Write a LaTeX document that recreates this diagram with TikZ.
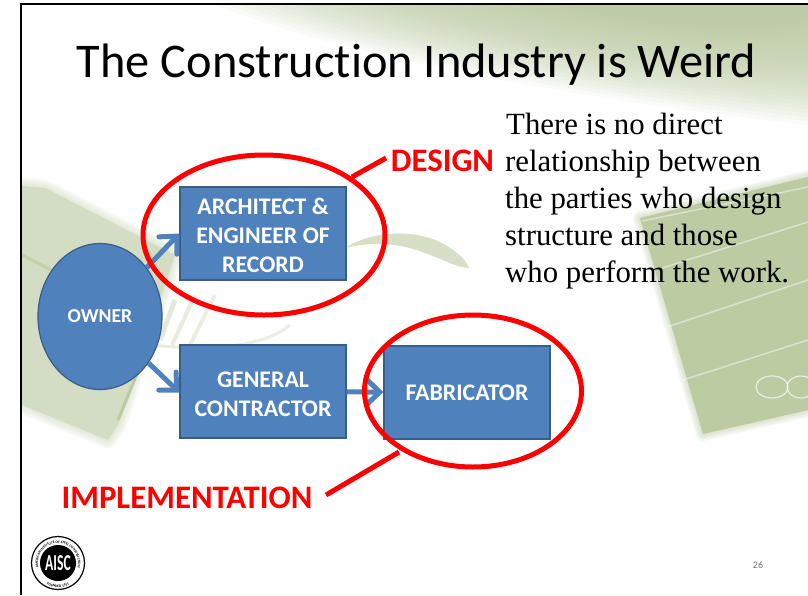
\documentclass[tikz,border=0pt]{standalone}
\usepackage{fontspec}
\setmainfont{Carlito}[Ligatures=NoCommon]
\newfontfamily\bodyfont{Liberation Serif}
\usetikzlibrary{arrows.meta,shapes.geometric,decorations.text}
\definecolor{boxblue}{HTML}{4F81BD}
\definecolor{boxedge}{HTML}{385D8A}
\definecolor{sage}{HTML}{BCCBA2}
\newcommand{\lowerfirst}{\rule{0pt}{21pt}}
\tikzset{
partybox/.style={draw=boxedge,line width=1.2pt,fill=boxblue,text=white,minimum width=166pt,minimum height=93pt,align=center,font=\fontsize{23.8}{29}\selectfont\bfseries},
flow/.style={draw=boxblue,line width=5pt,-{Straight Barb[length=13pt,width=25pt,line cap=round]}},
ring/.style={draw=red,line width=5pt},
tag/.style={text=red,font=\fontsize{32.8}{36}\selectfont\bfseries,inner sep=0pt},
crease/.style={draw=white,opacity=0.45,line width=1.5pt},
}
\begin{document}
\begin{tikzpicture}[x=1pt,y=-1pt]
\useasboundingbox (0,0) rectangle (808,595);
\fill[white] (0,0) rectangle (808,595);
%
% backdrop, top right
\foreach \k in {0,...,27} {
\fill[sage,opacity=0.07] (215+13*\k,5) .. controls (300+13*\k,40-\k/2) and (500+10*\k,90-2*\k) .. (808,125-4*\k) -- (808,5) -- cycle;
}
% backdrop, right
\fill[sage] (640,218) -- (808,177) -- (808,410) -- (703,434) -- cycle;
\foreach \w in {2,5,...,14} {
\draw[sage,opacity=0.12,line width=\w pt,line join=round] (640,218) -- (808,177) -- (808,410) -- (703,434) -- cycle;
}
\draw[crease] (642,221) -- (808,187);
\draw[crease] (662,268) -- (808,222);
\draw[crease] (667,327) -- (808,280);
\draw[crease] (683,380) -- (808,340);
\draw[white,opacity=0.7,line width=1.2pt] (772,387) ellipse (16 and 11);
\draw[white,opacity=0.7,line width=1.2pt] (801,387) ellipse (14 and 11);
% backdrop, left
\begin{scope}
\clip (22,150) rectangle (300,480);
\fill[sage!65] (22,186) -- (45,188) -- (175,255) -- (118,425) -- (108,440) -- (22,405) -- cycle;
\foreach \w in {2,5,...,17} {
\draw[sage!65,opacity=0.13,line width=\w pt,line join=round] (22,186) -- (45,188) -- (175,255) -- (118,425) -- (108,440) -- (22,405) -- cycle;
}
\draw[sage,line width=3pt,opacity=0.7] (22,255) -- (70,280);
\draw[sage,line width=3pt] (155,330) -- (118,420);
\draw[sage!70,line width=5pt,opacity=0.6] (175,300) -- (160,340);
\draw[sage!60,line width=4pt,opacity=0.6] (195,295) -- (172,345);
\draw[sage!50,line width=4pt,opacity=0.6] (215,295) -- (190,345);
\draw[sage!45,line width=3pt,opacity=0.7] (150,345) .. controls (200,350) and (260,350) .. (290,325);
\end{scope}
\fill[sage!60] (345,248) .. controls (370,232) and (410,228) .. (440,242) .. controls (455,250) and (465,258) .. (469,268) .. controls (445,268) and (410,232) .. (345,248) -- cycle;
%
% frame
\draw[line width=2pt] (21,595) -- (21,4) -- (808,4);
%
\node[font=\fontsize{48.4}{52}\selectfont,inner sep=0pt] (title) at (416.5,65) {The Construction Industry is Weird};
\node[anchor=north west,align=left,inner sep=0pt,font=\bodyfont\fontsize{30.8}{37}\selectfont] (remark) at (505,113) {\hspace*{1pt}There is no direct\\relationship between\\the parties who design\\structure and those\\who perform the work.};
%
% parties
\node[partybox] (architect) at (263,233.5) {\lowerfirst ARCHITECT \&\\ENGINEER OF\\RECORD};
\node[partybox] (contractor) at (263,391.5) {\lowerfirst GENERAL\\CONTRACTOR};
\node[partybox] (fabricator) at (467,392.5) {FABRICATOR};
\node[draw=boxedge,line width=1.2pt,fill=boxblue,text=white,ellipse,minimum width=124pt,minimum height=146pt,inner sep=0pt,font=\fontsize{19.7}{22}\selectfont\bfseries] (owner) at (100,316.5) {OWNER};
\draw[flow] (owner) -- (architect.west);
\draw[flow] (owner) -- ([yshift=-1pt]contractor.west);
\draw[flow] (contractor) -- (fabricator);
%
% rings
\node[ring,ellipse,minimum width=242pt,minimum height=160pt,inner sep=0pt] (designring) at (264,235) {};
\node[ring,ellipse,minimum width=217pt,minimum height=152pt,inner sep=0pt] (implring) at (473,391) {};
\node[tag] (design) at (442.5,161) {DESIGN};
\node[tag] (impl) at (187,498) {IMPLEMENTATION};
\coordinate (designend) at (352,177);
\coordinate (designstart) at (386,158);
\coordinate (implend) at (399,452);
\coordinate (implstart) at (326,495);
\draw[ring] (designstart) -- (designend);
\draw[ring] (implstart) -- (implend);
%
% seal
\node[circle,draw=black,line width=1.2pt,fill=white,minimum size=53pt,inner sep=0pt] (sealouter) at (58,563) {};
\node[circle,fill=black,minimum size=36pt,inner sep=0pt,text=white,font=\fontsize{19}{19}\selectfont\bfseries] (seal) at (58,563) {\scalebox{0.72}[1.2]{AISC}};
\path[postaction={decorate,decoration={text along path,text align=center,text={|\fontsize{3.6}{4}\selectfont\bfseries|AMERICAN INSTITUTE OF STEEL CONSTRUCTION}}}] (41.6,574.5) arc[start angle=-215,end angle=35,radius=20];
\path[postaction={decorate,decoration={text along path,text align=center,text={|\fontsize{3.6}{4}\selectfont\bfseries|FOUNDED 1921}}}] (43.95,583.07) arc[start angle=-235,end angle=-305,radius=24.5];
%
\node[text=black!55,font=\fontsize{10}{12}\selectfont,inner sep=0pt] (page) at (758,565) {26};
\end{tikzpicture}
\end{document}
